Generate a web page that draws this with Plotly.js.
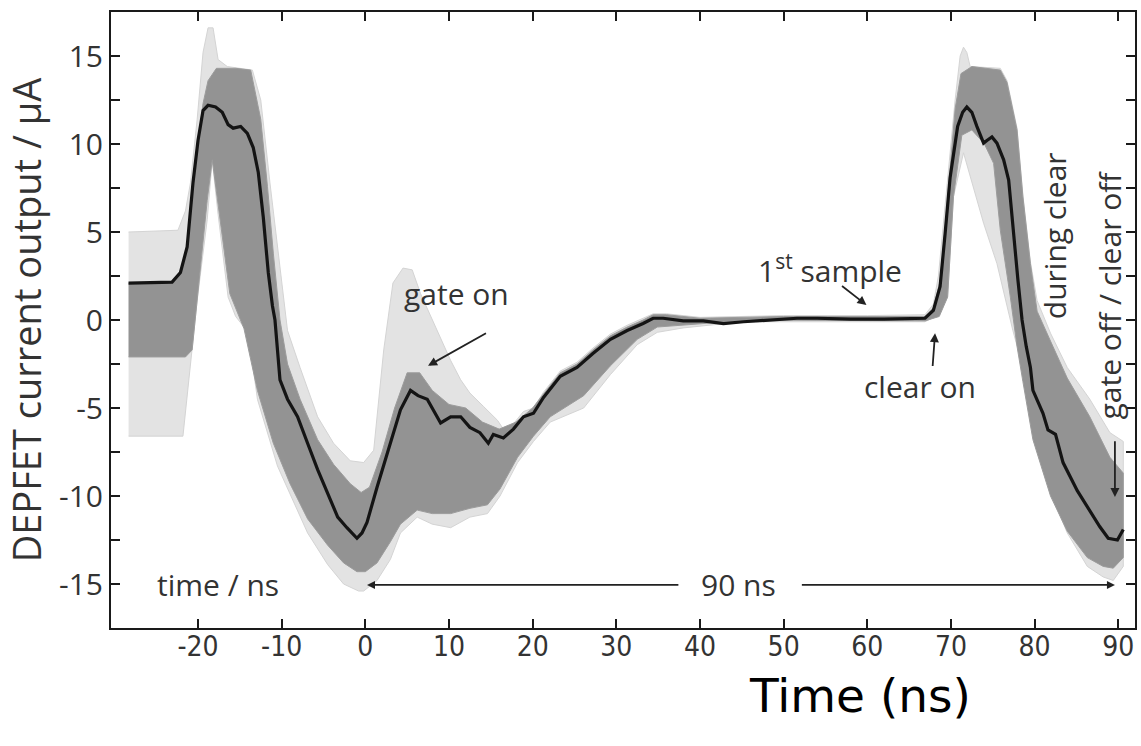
<!DOCTYPE html>
<html>
<head>
<meta charset="utf-8">
<script src="https://cdn.plot.ly/plotly-3.0.1.min.js"></script>
<style>
  html, body { margin: 0; padding: 0; background: #ffffff; }
  #chart { width: 1141px; height: 746px; }
</style>
</head>
<body>
<div id="chart"></div>
<script>
// ---- Mean (black) DEPFET current trace: time (ns) and current (uA) ----
const meanTime = [-28.3, -23.1, -22.1, -21.3, -20.6, -20.0, -19.4, -18.8, -17.9, -17.1, -16.4, -15.8, -14.9, -14.1, -13.4, -12.8, -12.2, -11.6, -11.1, -10.8, -10.2, -9.3, -8.1, -7.8, -6.9, -5.7, -4.5, -3.3, -2.2, -1.0, -0.4, 0.2, 1.4, 3.0, 4.2, 5.4, 6.3, 7.4, 8.1, 9.0, 10.2, 11.4, 12.5, 13.7, 14.7, 15.3, 16.5, 17.7, 18.9, 20.1, 21.3, 23.3, 25.3, 27.2, 29.3, 31.3, 33.2, 34.4, 35.6, 38.0, 40.4, 42.8, 45.2, 48.4, 51.6, 54.0, 58.0, 62.0, 66.9, 67.9, 68.7, 69.3, 69.9, 70.8, 71.4, 71.9, 72.5, 73.1, 73.9, 74.3, 74.9, 75.5, 76.3, 76.9, 77.4, 78.0, 78.5, 79.0, 79.5, 79.8, 81.0, 81.6, 82.5, 83.4, 85.1, 86.6, 87.8, 88.8, 89.9, 90.6];
const meanCurrent = [2.1, 2.15, 2.7, 4.15, 7.8, 10.2, 11.9, 12.2, 12.1, 11.8, 11.1, 10.9, 11.0, 10.6, 9.8, 8.4, 5.85, 2.7, 0.8, 0.0, -3.4, -4.5, -5.5, -5.85, -7.0, -8.5, -9.8, -11.2, -11.8, -12.4, -12.1, -11.5, -9.5, -7.0, -5.1, -4.0, -4.3, -4.5, -5.1, -5.85, -5.5, -5.5, -6.1, -6.4, -7.0, -6.5, -6.7, -6.2, -5.5, -5.3, -4.4, -3.2, -2.7, -1.9, -1.1, -0.6, -0.2, 0.1, 0.1, -0.05, -0.05, -0.2, -0.1, 0.0, 0.1, 0.1, 0.05, 0.05, 0.1, 0.55, 1.9, 4.9, 8.1, 11.0, 11.8, 12.1, 11.8, 11.0, 10.05, 10.2, 10.4, 10.05, 9.1, 7.95, 5.3, 2.3, 0.0, -1.5, -2.7, -4.0, -5.3, -6.25, -6.5, -8.1, -9.7, -10.8, -11.75, -12.4, -12.5, -11.9];

// ---- Outer envelope of all individual traces (light grey) ----
const outerUpperTime = [-28.3, -22.4, -21.5, -20.9, -20.1, -19.4, -18.8, -18.2, -17.6, -16.5, -13.5, -12.5, -11.4, -10.2, -9.3, -7.8, -5.7, -3.8, -1.8, -0.2, 1.0, 2.2, 3.3, 4.5, 5.6, 6.6, 7.8, 9.0, 10.2, 11.4, 12.5, 14.1, 15.8, 16.5, 17.7, 18.9, 20.1, 21.3, 23.3, 25.3, 27.2, 29.3, 31.3, 33.2, 34.4, 36.0, 40.0, 50.0, 60.0, 66.9, 67.9, 68.5, 69.2, 69.8, 70.5, 71.1, 71.5, 71.9, 72.3, 75.9, 76.7, 77.9, 78.6, 79.5, 80.3, 81.9, 83.9, 86.6, 89.0, 90.6];
const outerUpperCurrent = [5.0, 5.1, 6.2, 7.8, 11.4, 15.2, 16.6, 16.6, 14.8, 14.4, 14.2, 12.5, 7.8, 3.0, -0.6, -2.7, -5.5, -7.0, -8.0, -8.1, -7.4, -1.7, 2.1, 2.95, 2.85, 1.5, 0.2, -1.1, -2.3, -3.4, -4.15, -4.9, -5.7, -6.2, -5.9, -5.2, -5.0, -4.1, -2.9, -2.4, -1.6, -0.8, -0.3, 0.1, 0.35, 0.35, 0.15, 0.25, 0.25, 0.3, 0.9, 2.5, 5.8, 9.0, 12.5, 15.0, 15.5, 15.2, 14.4, 14.3, 13.6, 10.9, 7.1, 3.3, 1.1, -0.75, -2.7, -4.5, -6.4, -6.9];
const outerLowerTime = [-28.3, -21.8, -21.2, -20.7, -20.1, -18.9, -18.3, -17.6, -16.4, -15.5, -14.0, -12.9, -10.5, -6.9, -4.5, -2.6, -0.8, -0.2, 1.4, 3.0, 4.2, 6.2, 8.0, 10.2, 12.5, 14.6, 16.1, 18.2, 20.1, 22.1, 24.1, 26.1, 29.3, 32.5, 34.9, 38.0, 42.0, 46.0, 60.0, 66.9, 68.6, 69.6, 70.3, 71.5, 73.9, 75.5, 77.4, 78.6, 79.8, 81.9, 83.9, 86.3, 88.2, 89.4, 90.6];
const outerLowerCurrent = [-6.6, -6.6, -4.0, -1.7, 1.1, 5.7, 9.1, 6.0, 1.3, 0.2, -0.7, -4.5, -8.3, -12.1, -13.9, -15.0, -15.4, -15.4, -14.8, -13.6, -12.1, -11.2, -11.6, -11.8, -11.2, -11.0, -10.0, -8.1, -6.9, -5.8, -5.4, -5.0, -3.1, -1.4, -0.7, -0.45, -0.25, -0.1, -0.1, -0.1, 0.3, 1.3, 7.0, 9.5, 5.5, 3.2, -0.6, -2.7, -6.4, -9.8, -12.1, -14.0, -14.6, -14.8, -14.0];

// ---- Dense core of the individual traces (mid grey) ----
const coreUpperTime = [-28.3, -23.1, -22.1, -21.3, -20.6, -20.0, -19.4, -18.8, -17.8, -15.5, -13.7, -12.5, -11.7, -11.0, -10.2, -9.3, -7.8, -5.7, -3.8, -1.8, -0.5, 0.5, 2.0, 3.5, 5.0, 6.5, 8.0, 10.0, 12.0, 14.0, 16.0, 18.0, 20.0, 21.3, 23.3, 25.3, 27.2, 29.3, 31.3, 33.2, 34.4, 36.0, 40.0, 50.0, 60.0, 66.9, 67.9, 68.7, 69.3, 69.9, 70.5, 71.2, 72.5, 75.9, 76.7, 77.9, 78.6, 79.5, 80.3, 81.9, 83.9, 86.6, 89.0, 90.6];
const coreUpperCurrent = [2.1, 2.15, 2.7, 4.2, 7.8, 10.2, 12.3, 13.6, 14.3, 14.3, 14.2, 11.4, 7.6, 3.8, 0.0, -2.5, -4.5, -6.8, -8.2, -9.3, -9.8, -9.5, -7.5, -5.0, -3.0, -3.0, -4.0, -4.8, -5.0, -5.8, -6.2, -5.8, -5.0, -4.2, -3.0, -2.5, -1.7, -0.9, -0.4, 0.0, 0.3, 0.3, 0.1, 0.2, 0.2, 0.2, 0.7, 2.2, 5.2, 8.5, 12.0, 14.0, 14.4, 14.2, 13.5, 10.8, 7.0, 3.2, 0.5, -1.2, -3.3, -5.5, -7.8, -8.7];
const coreLowerTime = [-28.3, -21.5, -20.7, -20.1, -18.9, -18.3, -17.6, -16.2, -14.5, -12.9, -11.0, -9.0, -6.9, -4.5, -2.6, -1.0, 0.0, 1.4, 3.0, 4.2, 6.2, 8.0, 10.2, 12.5, 14.6, 16.1, 18.2, 20.1, 22.1, 24.1, 26.1, 29.3, 32.5, 34.9, 38.0, 42.0, 46.0, 66.9, 68.6, 69.6, 70.3, 71.3, 72.5, 74.0, 75.1, 75.9, 77.1, 77.9, 78.6, 79.8, 81.9, 83.9, 86.3, 88.2, 89.4, 90.6];
const coreLowerCurrent = [-2.1, -2.1, -1.7, 1.1, 6.8, 9.1, 6.5, 1.5, -0.5, -4.0, -7.0, -9.3, -11.3, -12.8, -13.8, -14.3, -14.3, -13.8, -12.6, -11.6, -10.8, -11.0, -11.0, -10.7, -10.5, -9.6, -7.8, -6.6, -5.5, -4.9, -4.3, -2.6, -1.1, -0.4, -0.3, -0.15, 0.0, -0.05, 0.2, 1.3, 7.0, 10.5, 10.8, 10.0, 8.9, 5.1, 1.3, -1.5, -3.5, -6.8, -10.0, -12.0, -13.5, -14.0, -14.1, -13.5];

// ---- Axis tick labels ----
const xTickVals = [-20, -10, 0, 10, 20, 30, 40, 50, 60, 70, 80, 90];
const xTickText = ['-20', '-10', '0', '10', '20', '30', '40', '50', '60', '70', '80', '90'];
const yTickVals = [-17.5, -15, -12.5, -10, -7.5, -5, -2.5, 0, 2.5, 5, 7.5, 10, 12.5, 15, 17.5];
const yTickText = ['', '-15', '', '-10', '', '-5', '', '0', '', '5', '', '10', '', '15', ''];

function polygon(ux, uy, lx, ly) {
  return {
    x: ux.concat(lx.slice().reverse()),
    y: uy.concat(ly.slice().reverse())
  };
}

const outer = polygon(outerUpperTime, outerUpperCurrent, outerLowerTime, outerLowerCurrent);
const core = polygon(coreUpperTime, coreUpperCurrent, coreLowerTime, coreLowerCurrent);

const traces = [
  { type: 'scatter', mode: 'lines', x: outer.x, y: outer.y, fill: 'toself',
    fillcolor: '#e3e3e3', line: { color: '#d4d4d4', width: 1 }, hoverinfo: 'skip', showlegend: false },
  { type: 'scatter', mode: 'lines', x: core.x, y: core.y, fill: 'toself',
    fillcolor: '#939393', line: { color: '#9c9c9c', width: 1 }, hoverinfo: 'skip', showlegend: false },
  { type: 'scatter', mode: 'lines', x: meanTime, y: meanCurrent,
    line: { color: '#141414', width: 3.2 }, showlegend: false, name: 'mean' }
];

const txtFont = { family: 'Open Sans, Noto Sans, sans-serif', size: 30, color: '#333333' };
const arrowColor = '#222222';

const annotations = [
  { x: -17.6, y: -15.05, xref: 'x', yref: 'y', text: 'time / ns', showarrow: false, font: txtFont },
  { x: 44.6, y: -15.05, xref: 'x', yref: 'y', text: '90 ns', showarrow: false, font: txtFont },
  { x: 0.2, y: -15.05, xref: 'x', yref: 'y', ax: 37.6, ay: -15.05, axref: 'x', ayref: 'y', text: '',
    showarrow: true, arrowhead: 2, arrowsize: 1, arrowwidth: 1.6, arrowcolor: arrowColor },
  { x: 89.6, y: -15.05, xref: 'x', yref: 'y', ax: 52.0, ay: -15.05, axref: 'x', ayref: 'y', text: '',
    showarrow: true, arrowhead: 2, arrowsize: 1, arrowwidth: 1.6, arrowcolor: arrowColor },
  { x: 10.9, y: 1.5, xref: 'x', yref: 'y', text: 'gate on', showarrow: false, font: txtFont },
  { x: 7.5, y: -2.6, xref: 'x', yref: 'y', ax: 14.6, ay: -0.7, axref: 'x', ayref: 'y', text: '',
    showarrow: true, arrowhead: 2, arrowsize: 1, arrowwidth: 1.8, arrowcolor: arrowColor },
  { x: 55.6, y: 2.9, xref: 'x', yref: 'y', text: '1<sup>st</sup> sample', showarrow: false, font: txtFont },
  { x: 59.9, y: 0.85, xref: 'x', yref: 'y', ax: 56.8, ay: 2.0, axref: 'x', ayref: 'y', text: '',
    showarrow: true, arrowhead: 2, arrowsize: 1, arrowwidth: 1.8, arrowcolor: arrowColor },
  { x: 66.3, y: -3.8, xref: 'x', yref: 'y', text: 'clear on', showarrow: false, font: txtFont },
  { x: 68.1, y: -0.75, xref: 'x', yref: 'y', ax: 67.8, ay: -2.7, axref: 'x', ayref: 'y', text: '',
    showarrow: true, arrowhead: 2, arrowsize: 1, arrowwidth: 1.8, arrowcolor: arrowColor },
  { x: 82.4, y: 4.8, xref: 'x', yref: 'y', text: 'during clear', textangle: -90, showarrow: false, font: txtFont },
  { x: 88.9, y: 1.4, xref: 'x', yref: 'y', text: 'gate off / clear off', textangle: -90, showarrow: false, font: txtFont },
  { x: 89.6, y: -10.05, xref: 'x', yref: 'y', ax: 89.6, ay: -6.8, axref: 'x', ayref: 'y', text: '',
    showarrow: true, arrowhead: 2, arrowsize: 1, arrowwidth: 1.8, arrowcolor: arrowColor },
  { x: 0.731, y: -0.11, xref: 'paper', yref: 'paper', text: 'Time (ns)', showarrow: false,
    xanchor: 'center', yanchor: 'middle',
    font: { family: 'DejaVu Sans, sans-serif', size: 47, color: '#000000' } }
];

const layout = {
  width: 1141, height: 746,
  margin: { l: 111, r: 6, t: 12, b: 118 },
  paper_bgcolor: '#ffffff', plot_bgcolor: '#ffffff',
  showlegend: false,
  xaxis: {
    range: [-30.4, 92.0], showgrid: false, zeroline: false,
    showline: true, linecolor: '#1a1a1a', linewidth: 2, mirror: 'allticks',
    ticks: 'inside', ticklen: 9, tickwidth: 2, tickcolor: '#1a1a1a',
    tickmode: 'array', tickvals: xTickVals, ticktext: xTickText,
    ticklabelstandoff: -8,
    tickfont: { family: 'Liberation Sans Narrow, DejaVu Sans Condensed, Open Sans, sans-serif', size: 28, color: '#333333' }
  },
  yaxis: {
    range: [-17.5, 17.5], showgrid: false, zeroline: false,
    showline: true, linecolor: '#1a1a1a', linewidth: 2, mirror: 'allticks',
    ticks: 'inside', ticklen: 9, tickwidth: 2, tickcolor: '#1a1a1a',
    tickmode: 'array', tickvals: yTickVals, ticktext: yTickText,
    tickfont: { family: 'Open Sans, Noto Sans, sans-serif', size: 30, color: '#333333' },
    title: { text: 'DEPFET current output / μA', standoff: 6,
      font: { family: 'Open Sans, Noto Sans, sans-serif', size: 38, color: '#333333' } }
  },
  annotations: annotations
};

Plotly.newPlot('chart', traces, layout, { displayModeBar: false, staticPlot: true });
</script>
</body>
</html>
